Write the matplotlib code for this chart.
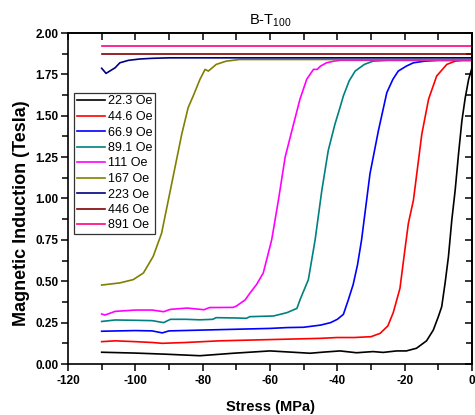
import matplotlib
matplotlib.use("Agg")
import matplotlib.pyplot as plt
from matplotlib.ticker import MultipleLocator

plt.rcParams['font.family'] = ['Liberation Sans', 'DejaVu Sans']
plt.rcParams['mathtext.fontset'] = 'custom'
plt.rcParams['mathtext.rm'] = 'Liberation Sans'
plt.rcParams['axes.unicode_minus'] = False

labels = ["22.3 Oe", "44.6 Oe", "66.9 Oe", "89.1 Oe", "111 Oe", "167 Oe", "223 Oe", "446 Oe", "891 Oe"]
colors = ["#000000", "#FF0000", "#0000FF", "#008080", "#FF00FF", "#808000", "#000080", "#800000", "#FF0080"]

x_223 = [-110, -100, -90.7, -80.8, -70.9, -60, -54, -48.1, -44, -39.2, -34.3, -29.4, -26.4, -22.4, -19.5, -16.5,
         -13.5, -11.5, -10, -9, -8, -7, -6, -5, -4, -3, -2, -1, 0]
y_223 = [0.071, 0.066, 0.059, 0.05, 0.065, 0.079, 0.072, 0.065, 0.072, 0.079, 0.068, 0.075, 0.07, 0.079, 0.079, 0.095,
         0.14, 0.205, 0.286, 0.346, 0.488, 0.648, 0.87, 1.05, 1.27, 1.47, 1.61, 1.72, 1.79]

x_446 = [-110, -106, -100, -95, -92, -85, -75, -65, -55, -45, -40, -35, -30, -27.3, -25, -23.4, -21.4, -20, -18.9,
         -17.4, -16.4, -14.9, -12.9, -10.5, -7.5, -5, -3, 0]
y_446 = [0.135, 0.14, 0.135, 0.13, 0.125, 0.13, 0.14, 0.145, 0.15, 0.155, 0.16, 0.16, 0.165, 0.185, 0.23, 0.31, 0.457,
         0.68, 0.85, 0.99, 1.15, 1.39, 1.6, 1.74, 1.81, 1.83, 1.835, 1.835]

x_669 = [-110, -100, -95, -92, -90, -80, -70, -60, -55, -50, -45, -42, -40, -38.2, -36.7, -35.3, -34, -32.8, -30.3,
         -27.8, -25.3, -23.5, -21.9, -19.5, -17.4, -14, -10, -5, 0]
y_669 = [0.198, 0.202, 0.2, 0.188, 0.2, 0.205, 0.21, 0.215, 0.22, 0.222, 0.235, 0.25, 0.27, 0.30, 0.39, 0.48, 0.6,
         0.75, 1.15, 1.41, 1.64, 1.72, 1.77, 1.80, 1.82, 1.83, 1.835, 1.835, 1.835]

x_891 = [-110, -106, -100, -95, -91.6, -89.6, -85, -80.8, -77, -76, -70, -67, -66, -59, -55, -52, -51.1, -48.6, -46.6,
         -44.6, -42.7, -40.7, -39.2, -38.2, -36.5, -34.7, -32, -29.4, -25, -15, -5, 0]
y_891 = [0.257, 0.266, 0.264, 0.262, 0.25, 0.27, 0.27, 0.267, 0.27, 0.28, 0.278, 0.276, 0.286, 0.29, 0.31, 0.336,
         0.387, 0.51, 0.75, 1.05, 1.29, 1.45, 1.55, 1.62, 1.71, 1.77, 1.81, 1.83, 1.835, 1.835, 1.835, 1.835]

x_111 = [-110, -109, -106, -100, -95, -91.6, -89.6, -84.6, -79.6, -78, -71, -70, -67.4, -65.9, -64, -62, -59.5,
         -57.5, -55.5, -53, -51.1, -49.1, -47.1, -46, -45, -43.2, -41, -39, -35, -25, -15, 0]
y_111 = [0.302, 0.296, 0.318, 0.326, 0.326, 0.316, 0.33, 0.338, 0.328, 0.341, 0.342, 0.35, 0.387, 0.43, 0.48, 0.55,
         0.75, 0.99, 1.25, 1.45, 1.6, 1.72, 1.78, 1.78, 1.80, 1.82, 1.83, 1.835, 1.835, 1.835, 1.835, 1.835]

x_167 = [-110, -104.6, -100.6, -97.6, -94.7, -92.2, -90.2, -88.2, -86.2, -84.3, -82.8, -80.8, -79.3, -78.3, -76,
         -73, -69, -65, -55, -40, -20, 0]
y_167 = [0.477, 0.49, 0.51, 0.55, 0.65, 0.79, 0.99, 1.19, 1.39, 1.55, 1.62, 1.72, 1.78, 1.77, 1.81, 1.83, 1.84,
         1.84, 1.84, 1.84, 1.84, 1.84]

x_223oe = [-110, -108.7, -106, -104.6, -102, -98.6, -95, -90, -80, -60, -40, -20, 0]
y_223oe = [1.787, 1.756, 1.79, 1.82, 1.835, 1.843, 1.847, 1.85, 1.85, 1.85, 1.85, 1.85, 1.85]

x_446oe = [-110, 0]
y_446oe = [1.875, 1.875]

x_891oe = [-110, 0]
y_891oe = [1.92, 1.92]

xs = [x_223, x_446, x_669, x_891, x_111, x_167, x_223oe, x_446oe, x_891oe]
ys = [y_223, y_446, y_669, y_891, y_111, y_167, y_223oe, y_446oe, y_891oe]

W, H = 475, 415
fig = plt.figure(figsize=(W / 100, H / 100), dpi=100)
ax = fig.add_axes([68 / W, (H - 364) / H, (472 - 68) / W, (364 - 33) / H])

for x, y, c, lab in zip(xs, ys, colors, labels):
    ax.plot(x, y, color=c, lw=1.2, label=lab)

ax.set_xlim(-120, 0)
ax.set_ylim(0, 2.0)
ax.xaxis.set_major_locator(MultipleLocator(20))
ax.xaxis.set_minor_locator(MultipleLocator(10))
ax.yaxis.set_major_locator(MultipleLocator(0.25))
ax.yaxis.set_minor_locator(MultipleLocator(0.125))
ax.yaxis.set_major_formatter(plt.FormatStrFormatter('%.2f'))

for s in ax.spines.values():
    s.set_linewidth(1.2)

ax.tick_params(which='both', direction='out', bottom=True, left=True, top=False, right=False, width=1.1)
ax.tick_params(which='major', length=5)
ax.tick_params(which='minor', length=4)
for lab in ax.get_xticklabels() + ax.get_yticklabels():
    lab.set_fontweight('bold')
    lab.set_fontsize(8.5)
ax.tick_params(axis='x', pad=3)
ax.tick_params(axis='y', pad=2)

# inward ticks on top and right
axt = ax.secondary_xaxis('top')
axt.xaxis.set_major_locator(MultipleLocator(20))
axt.xaxis.set_minor_locator(MultipleLocator(10))
axt.tick_params(which='both', direction='in', width=1.1, labeltop=False)
axt.tick_params(which='major', length=5)
axt.tick_params(which='minor', length=5)
axr = ax.secondary_yaxis('right')
axr.yaxis.set_major_locator(MultipleLocator(0.25))
axr.yaxis.set_minor_locator(MultipleLocator(0.125))
axr.tick_params(which='both', direction='in', width=1.1, labelright=False)
axr.tick_params(which='major', length=5)
axr.tick_params(which='minor', length=4)
for s in list(axt.spines.values()) + list(axr.spines.values()):
    s.set_linewidth(1.2)

ax.set_xlabel("Stress (MPa)", fontsize=10.5, fontweight='bold', labelpad=9)
ax.set_ylabel("Magnetic Induction (Tesla)", fontsize=13, fontweight='bold')
ax.yaxis.set_label_coords(-0.095, 0.457)
ax.set_title(r"B-T$_{\mathrm{100}}$", fontsize=10.5, pad=6)

leg = ax.legend(loc='upper left', bbox_to_anchor=(74 / W, 1 - 93 / H), bbox_transform=fig.transFigure,
                borderaxespad=0, fontsize=9, frameon=True, fancybox=False, handlelength=2.25,
                handletextpad=0.25, labelspacing=0.28, borderpad=0.2)
leg.get_frame().set_edgecolor('black')
leg.get_frame().set_linewidth(0.9)

fig.savefig("out.png", dpi=100)
